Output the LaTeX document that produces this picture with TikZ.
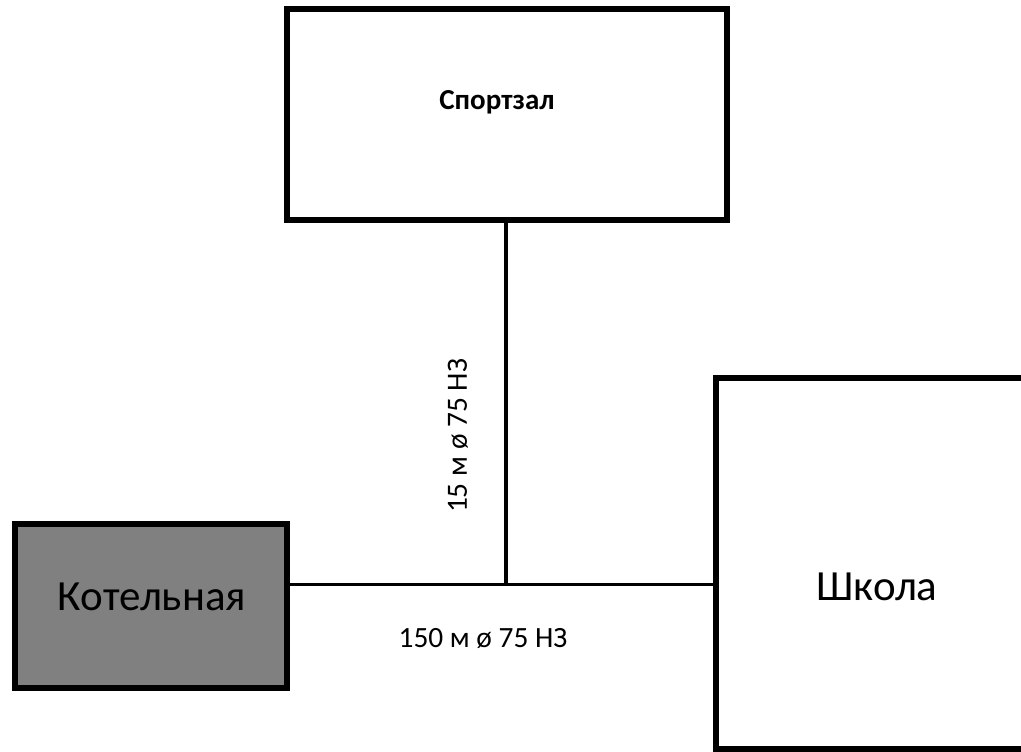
\documentclass[tikz,border=0pt]{standalone}
\usepackage{fontspec}
\setmainfont{Carlito}
\begin{document}
\begin{tikzpicture}[x=1pt,y=-1pt,
  room/.style={draw=black,line width=6pt,anchor=north west,inner sep=0},
  pipe/.style={draw=black,line width=3.7pt}]
\useasboundingbox (0,0) rectangle (1021,752);
\begin{scope}
\clip (0,0) rectangle (1021,752);
\node[room,fill=white,minimum width=440pt,minimum height=211pt] (gym) at (284,6) {};
\node[room,fill=white,minimum width=400pt,minimum height=371pt] (school) at (713,375) {};
\end{scope}
\node[room,fill=black!50,minimum width=272pt,minimum height=164pt] (boiler) at (12,521) {};
\coordinate (tee) at (506,584.5);
\draw[pipe] (boiler.east |- tee) -- (tee);
\draw[pipe] (tee) -- (school.west |- tee);
\draw[pipe] (gym.south -| tee) -- (tee);
\node[font=\bfseries\fontsize{29}{34}\selectfont] (gymt) at (497,102) {Спортзал};
\node[font=\fontsize{43}{50}\selectfont] (boilert) at (152,597) {Котельная};
\node[font=\fontsize{43}{50}\selectfont] (schoolt) at (877,587) {Школа};
\node[font=\fontsize{29.4}{34}\selectfont] (l1) at (483,638) {150 м ø 75 НЗ};
\node[font=\fontsize{29.4}{34}\selectfont,rotate=90] (l2) at (458,436) {15 м ø 75 НЗ};
\end{tikzpicture}
\end{document}
